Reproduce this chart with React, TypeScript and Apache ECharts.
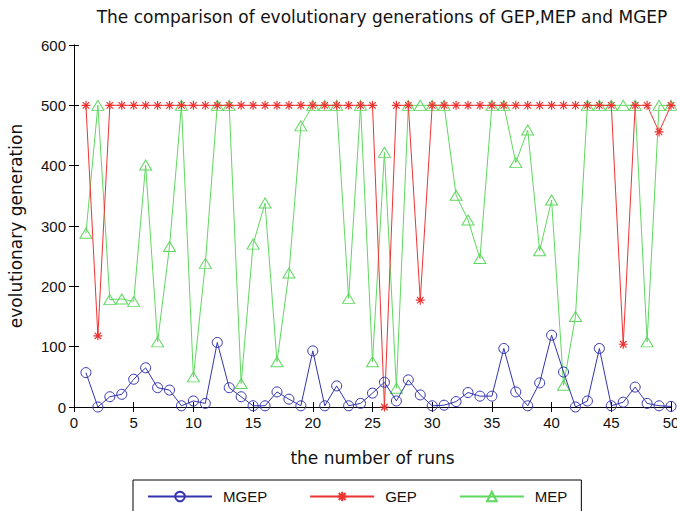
import React, { useEffect, useRef } from "react";
import * as echarts from "echarts";

const runs: number[] = Array.from({ length: 50 }, (_, i) => i + 1);

const mgep: number[] = [
  57, 0, 17, 21, 46, 65, 32, 28, 2, 10,
  6, 107, 32, 17, 2, 2, 25, 13, 2, 93,
  2, 35, 2, 6, 23, 41, 10, 45, 20, 2,
  3, 9, 24, 18, 18, 97, 25, 2, 40, 119,
  58, 0, 10, 97, 2, 8, 33, 6, 2, 1,
];

const gep: number[] = [
  500, 118, 500, 500, 500, 500, 500, 500, 500, 500,
  500, 500, 500, 500, 500, 500, 500, 500, 500, 500,
  500, 500, 500, 500, 500, 0, 500, 500, 177, 500,
  500, 500, 500, 500, 500, 500, 500, 500, 500, 500,
  500, 500, 500, 500, 500, 104, 500, 500, 456, 500,
];

const mep: number[] = [
  288, 500, 178, 179, 175, 401, 108, 266, 500, 50,
  238, 500, 500, 39, 270, 338, 75, 222, 466, 500,
  500, 500, 180, 500, 75, 422, 31, 500, 500, 500,
  500, 351, 310, 246, 500, 500, 405, 459, 259, 343,
  36, 150, 500, 500, 500, 500, 500, 108, 500, 500,
];

const seriesNames = ["MGEP", "GEP", "MEP"];
const colors = ["#3434b0", "#ee3333", "#5fd85f"];

const STAR = "path://M0,-5L0,5M-5,0L5,0M-3.6,-3.6L3.6,3.6M-3.6,3.6L3.6,-3.6";

export default function App() {
  const ref = useRef<HTMLDivElement>(null);
  useEffect(() => {
    if (!ref.current) return;
    const chart = echarts.init(ref.current, undefined, { renderer: "svg" });
    const font = "Liberation Sans, Arial, sans-serif";
    const wide = "DejaVu Sans, sans-serif";
    const mk = (vals: number[]) => runs.map((r, i) => [r, vals[i]]);
    const tickCommon = {
      axisLine: { show: true, lineStyle: { color: "#000", width: 1 } },
      axisTick: { show: true, inside: true, length: 5, lineStyle: { color: "#000" } },
      splitLine: { show: false },
    };
    chart.setOption({
      animation: false,
      backgroundColor: "#fff",
      title: {
        text: "The comparison of evolutionary generations of GEP,MEP and MGEP",
        left: 377,
        textAlign: "center",
        top: 3,
        textStyle: { fontFamily: wide, fontSize: 17, fontWeight: "normal", color: "#111" },
      },
      grid: { left: 74, right: 6, top: 45, bottom: 104, outerBoundsMode: "none", containLabel: false },
      legend: {
        left: 133,
        top: 480,
        width: 449,
        padding: [9, 14, 14, 14],
        itemGap: 42,
        itemWidth: 64,
        itemHeight: 12,
        borderColor: "#000",
        borderWidth: 1,
        backgroundColor: "#fff",
        borderRadius: 0,
        textStyle: { fontFamily: font, fontSize: 15, color: "#111", padding: [0, 0, 0, 6] },
        data: seriesNames,
      },
      xAxis: [
        {
          type: "value",
          min: 0,
          max: 50,
          interval: 5,
          position: "bottom",
          name: "the number of runs",
          nameLocation: "middle",
          nameGap: 42,
          nameTextStyle: { fontFamily: wide, fontSize: 17, color: "#111" },
          axisLabel: { fontFamily: font, fontSize: 15, color: "#111", margin: 8 },
          ...tickCommon,
        },
        {
          type: "value",
          min: 0,
          max: 50,
          interval: 5,
          position: "top",
          axisLabel: { show: false },
          ...tickCommon,
        },
      ],
      yAxis: [
        {
          type: "value",
          min: 0,
          max: 600,
          interval: 100,
          position: "left",
          name: "evolutionary generation",
          nameLocation: "middle",
          nameGap: 50,
          nameTextStyle: { fontFamily: wide, fontSize: 17, color: "#111" },
          axisLabel: { fontFamily: font, fontSize: 15, color: "#111", margin: 8 },
          ...tickCommon,
        },
        {
          type: "value",
          min: 0,
          max: 600,
          interval: 100,
          position: "right",
          axisLabel: { show: false },
          ...tickCommon,
        },
      ],
      series: [
        {
          name: "MGEP",
          type: "line",
          data: mk(mgep),
          symbol: "circle",
          symbolSize: 10,
          lineStyle: { color: colors[0], width: 1 },
          itemStyle: { color: "rgba(0,0,0,0)", borderColor: colors[0], borderWidth: 1 },
          z: 4,
        },
        {
          name: "GEP",
          type: "line",
          data: mk(gep),
          symbol: STAR,
          symbolSize: 9,
          lineStyle: { color: colors[1], width: 1 },
          itemStyle: { color: colors[1], borderColor: colors[1], borderWidth: 1.2 },
          z: 3,
        },
        {
          name: "MEP",
          type: "line",
          data: mk(mep),
          symbol: "triangle",
          symbolSize: [12, 10],
          lineStyle: { color: colors[2], width: 1 },
          itemStyle: { color: "rgba(0,0,0,0)", borderColor: colors[2], borderWidth: 1 },
          z: 2,
        },
      ],
    });
    return () => chart.dispose();
  }, []);
  return <div ref={ref} style={{ width: 677, height: 511, position: "absolute", left: 0, top: 0 }} />;
}
